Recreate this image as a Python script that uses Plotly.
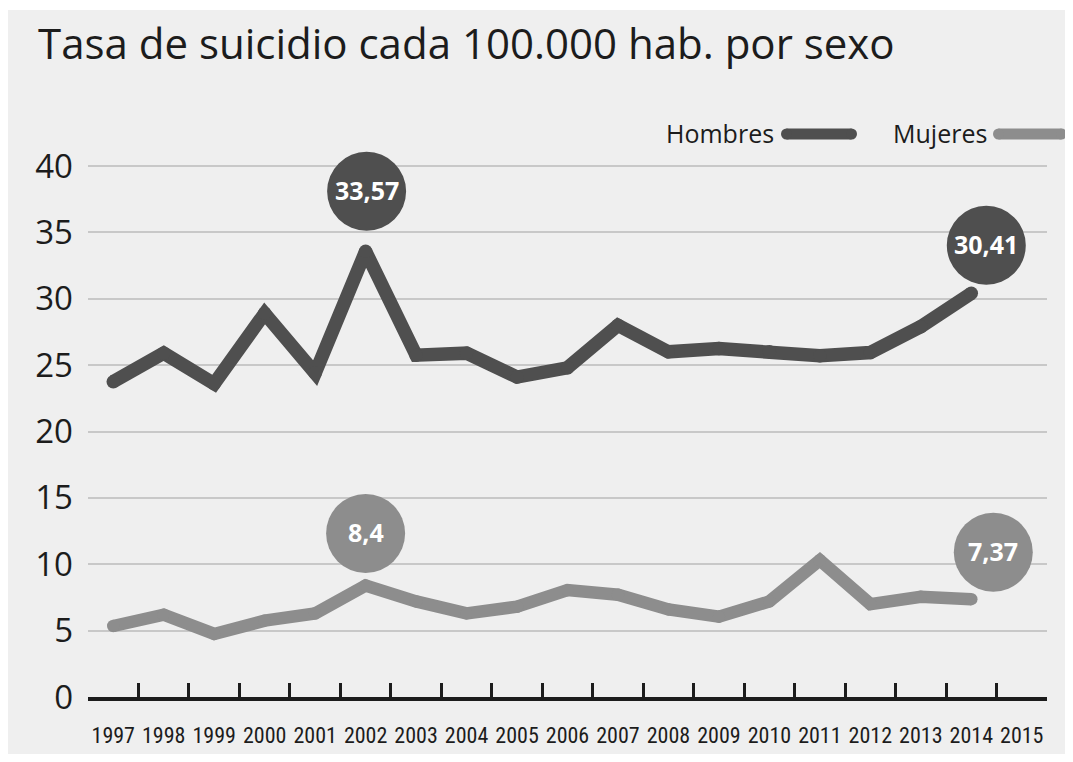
import plotly.graph_objects as go

# ---------------- data ----------------
years = [str(y) for y in range(1997, 2016)]
hombres = [23.75, 25.9, 23.6, 28.9, 24.4, 33.57, 25.75, 25.9, 24.1, 24.8,
           28.0, 26.0, 26.25, 26.0, 25.7, 25.95, 27.9, 30.41, None]
mujeres = [5.35, 6.2, 4.75, 5.75, 6.3, 8.4, 7.2, 6.3, 6.8, 8.05,
           7.7, 6.6, 6.05, 7.2, 10.3, 7.0, 7.55, 7.37, None]
y_ticks = [0, 5, 10, 15, 20, 25, 30, 35, 40]
title_text = "Tasa de suicidio cada 100.000 hab. por sexo"
series_names = ["Hombres", "Mujeres"]
callout_years = {"Hombres": ["2002", "2014"], "Mujeres": ["2002", "2014"]}

# ---------------- style ----------------
# the page body has an 8px margin, so the figure is drawn 8px in from the corner
OFF = 8
W, H = 1073 - 2 * OFF, 762 - 2 * OFF
PLOT_L, PLOT_R, PLOT_T, PLOT_B = 88, 1047, 140, 697  # reference-frame pixels
ML, MR, MT, MB = PLOT_L - OFF, W - (PLOT_R - OFF), PLOT_T - OFF, H - (PLOT_B - OFF)
PW, PH = W - ML - MR, H - MT - MB
C_H = "#4f4f4f"
C_M = "#8d8d8d"
TXT = "#1c1c1c"
FONT = "Open Sans"
NARROW = "Liberation Sans Narrow, Roboto Condensed, DejaVu Sans Condensed, sans-serif"

def px2x(px):  # reference-frame x pixel -> paper
    return (px - PLOT_L) / PW

def px2y(py):  # reference-frame y pixel -> paper
    return (PLOT_B - py) / PH

colors = {"Hombres": C_H, "Mujeres": C_M}
widths = {"Hombres": 13.5, "Mujeres": 12.5}
values = {"Hombres": hombres, "Mujeres": mujeres}

fig = go.Figure()
for name in series_names:
    fig.add_trace(go.Scatter(
        x=years, y=values[name], mode="lines+markers", name=name,
        line=dict(color=colors[name], width=widths[name]),
        marker=dict(color=colors[name], size=widths[name], line=dict(width=0)),
        showlegend=False, hoverinfo="skip"))

shapes = []
annotations = []

# background panel with white frame
shapes.append(dict(type="rect", xref="paper", yref="paper", layer="below",
                   x0=px2x(5), x1=px2x(1068), y0=px2y(757), y1=px2y(10),
                   fillcolor="#efefef", line=dict(width=0)))

# callout bubbles
offsets = {("Hombres", "2002"): (1, 60), ("Hombres", "2014"): (15, 48),
           ("Mujeres", "2002"): (0, 52), ("Mujeres", "2014"): (22, 47)}
R = 39.5
for name in series_names:
    for yr in callout_years[name]:
        idx = years.index(yr)
        v = values[name][idx]
        dx, dy = offsets[(name, yr)]
        shapes.append(dict(type="circle", xref="x", yref="y",
                           xsizemode="pixel", ysizemode="pixel",
                           xanchor=idx, yanchor=v,
                           x0=dx - R, x1=dx + R, y0=dy - R, y1=dy + R,
                           fillcolor=colors[name], line=dict(width=0)))
        annotations.append(dict(x=idx, y=v, xref="x", yref="y",
                                xshift=dx, yshift=dy + 1, showarrow=False,
                                text=f"{v:g}".replace(".", ","),
                                font=dict(family=FONT, size=25, color="white",
                                          weight="bold")))

# legend (text followed by a rounded line)
legend_pos = {"Hombres": (776, 781, 857), "Mujeres": (989, 993, 1067)}
LEG_Y = 134
for name in series_names:
    tx, lx0, lx1 = legend_pos[name]
    annotations.append(dict(x=px2x(tx), y=px2y(LEG_Y - 1), xref="paper", yref="paper",
                            xanchor="right", yanchor="middle", showarrow=False,
                            text=name, font=dict(family=FONT, size=25, color=TXT)))
    th = 11
    shapes.append(dict(type="rect", xref="paper", yref="paper",
                       x0=px2x(lx0 + th / 2), x1=px2x(lx1 - th / 2),
                       y0=px2y(LEG_Y + th / 2), y1=px2y(LEG_Y - th / 2),
                       fillcolor=colors[name], line=dict(width=0)))
    for cx in (lx0 + th / 2, lx1 - th / 2):
        shapes.append(dict(type="circle", xref="paper", yref="paper",
                           xsizemode="pixel", ysizemode="pixel",
                           xanchor=px2x(cx), yanchor=px2y(LEG_Y),
                           x0=-th / 2, x1=th / 2, y0=-th / 2, y1=th / 2,
                           fillcolor=colors[name], line=dict(width=0)))

fig.update_layout(
    width=W, height=H,
    margin=dict(l=ML, r=MR, t=MT, b=MB, pad=0, autoexpand=False),
    paper_bgcolor="white", plot_bgcolor="rgba(0,0,0,0)",
    title=dict(text=title_text, x=(38 - OFF) / W, xanchor="left", xref="container",
               y=1 - (44 - OFF) / H, yanchor="middle", yref="container",
               font=dict(family=FONT, size=42, color=TXT)),
    shapes=shapes, annotations=annotations,
    showlegend=False,
)
fig.update_xaxes(type="category", categoryorder="array", categoryarray=years,
                 range=[-0.5, len(years) - 0.5],
                 showline=True, linecolor=TXT, linewidth=4,
                 ticks="inside", ticklen=14, tickwidth=3, tickcolor=TXT,
                 tickson="boundaries", showgrid=False, zeroline=False,
                 tickangle=0, automargin=False,
                 tickfont=dict(family=NARROW, size=22, color=TXT),
                 ticklabelstandoff=16, fixedrange=True)
fig.update_yaxes(range=[0, PH / 13.275], tickvals=y_ticks,
                 ticktext=[str(t) for t in y_ticks], automargin=False,
                 showline=False, ticks="", showgrid=True,
                 gridcolor="#c8c8c8", gridwidth=1.5, zeroline=False,
                 tickfont=dict(family=FONT, size=33, color=TXT),
                 ticklabelstandoff=14, fixedrange=True)

fig.write_html("out.html")
